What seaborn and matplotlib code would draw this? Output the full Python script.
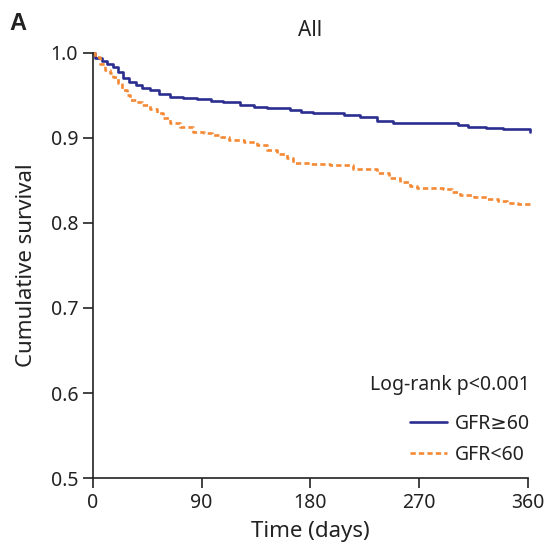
import matplotlib
matplotlib.use("Agg")
import matplotlib.pyplot as plt
import seaborn as sns
import pandas as pd

# Kaplan-Meier estimates (days, cumulative survival) per GFR group
days_high = [0, 2, 8, 12, 17, 21, 25, 30, 36, 41, 47, 55, 64, 75, 86, 98, 108, 122, 133, 144,
             163, 172, 182, 196, 208, 221, 235, 248, 270, 295, 302, 310, 325, 339, 352, 362]
surv_high = [1.000, 0.994, 0.990, 0.987, 0.984, 0.978, 0.971, 0.966, 0.962, 0.959, 0.956, 0.952,
             0.948, 0.947, 0.946, 0.944, 0.942, 0.939, 0.937, 0.935, 0.933, 0.931, 0.929, 0.929,
             0.927, 0.925, 0.920, 0.918, 0.918, 0.918, 0.915, 0.913, 0.912, 0.911, 0.910, 0.907]

days_low = [0, 2, 6, 10, 14, 17, 21, 24, 28, 31, 36, 41, 47, 53, 58, 64, 72, 83, 92, 99, 106,
            113, 125, 136, 144, 152, 161, 166, 180, 196, 215, 235, 245, 254, 262, 268, 290, 297,
            304, 315, 326, 335, 343, 352, 362]
surv_low = [1.000, 0.995, 0.987, 0.980, 0.976, 0.972, 0.965, 0.956, 0.950, 0.945, 0.942, 0.939,
            0.934, 0.929, 0.924, 0.918, 0.913, 0.907, 0.906, 0.904, 0.901, 0.898, 0.895, 0.892,
            0.886, 0.881, 0.876, 0.871, 0.869, 0.868, 0.864, 0.859, 0.853, 0.848, 0.844, 0.841,
            0.840, 0.837, 0.833, 0.830, 0.828, 0.826, 0.824, 0.822, 0.819]

groups = ["GFR≥60", "GFR<60"]
x_ticks = [0, 90, 180, 270, 360]
y_ticks = [0.5, 0.6, 0.7, 0.8, 0.9, 1.0]

df = pd.concat([
    pd.DataFrame({"days": days_high, "surv": surv_high, "group": groups[0]}),
    pd.DataFrame({"days": days_low, "surv": surv_low, "group": groups[1]}),
])

sns.set_style("ticks")
plt.rcParams["font.family"] = ["Noto Sans", "DejaVu Sans"]

fig = plt.figure(figsize=(5.46, 5.49), dpi=100)
ax = fig.add_axes([0.170, 0.1293, 0.797, 0.7742])

palette = {groups[0]: "#2b2d8f", groups[1]: "#f58a35"}
dash = (2.0, 1.2)
sns.lineplot(data=df, x="days", y="surv", hue="group", style="group",
             palette=palette, dashes={groups[0]: "", groups[1]: dash},
             drawstyle="steps-post", estimator=None, sort=False, linewidth=1.9,
             ax=ax, legend=False, clip_on=False)

ax.set_xlim(0, 360)
ax.set_ylim(0.5, 1.0)
ax.set_xticks(x_ticks)
ax.set_xticklabels([str(t) for t in x_ticks])
ax.set_yticks(y_ticks)
ax.set_yticklabels([f"{t:.1f}" for t in y_ticks])
ax.tick_params(axis="both", direction="out", length=7, width=1.2, colors="#222222",
               labelsize=14, labelcolor="#222222")
for side in ("top", "right"):
    ax.spines[side].set_visible(False)
for side in ("left", "bottom"):
    ax.spines[side].set_linewidth(1.2)
    ax.spines[side].set_color("#222222")

ax.set_xlabel("Time (days)", fontsize=16, color="#222222", labelpad=6)
ax.set_ylabel("Cumulative survival", fontsize=16, color="#222222", labelpad=10)
ax.set_title("All", fontsize=15, color="#222222", pad=12)
fig.text(0.018, 0.958, "A", fontsize=17, fontweight="bold", color="#222222",
         va="center", family=["Liberation Sans", "DejaVu Sans"])

handles = [plt.Line2D([], [], color=palette[groups[0]], lw=1.9),
           plt.Line2D([], [], color=palette[groups[1]], lw=1.9, dashes=dash)]
leg = ax.legend(handles, groups, title="Log-rank p<0.001", loc="lower right",
                bbox_to_anchor=(1.044, -0.01), frameon=False, fontsize=14,
                title_fontsize=14, handlelength=1.9, handletextpad=0.4,
                labelspacing=0.55)
leg._legend_box.align = "right"
leg._legend_box.sep = 14
for t in leg.get_texts():
    t.set_color("#222222")
leg.get_title().set_color("#222222")

fig.savefig("out.png", dpi=100)
